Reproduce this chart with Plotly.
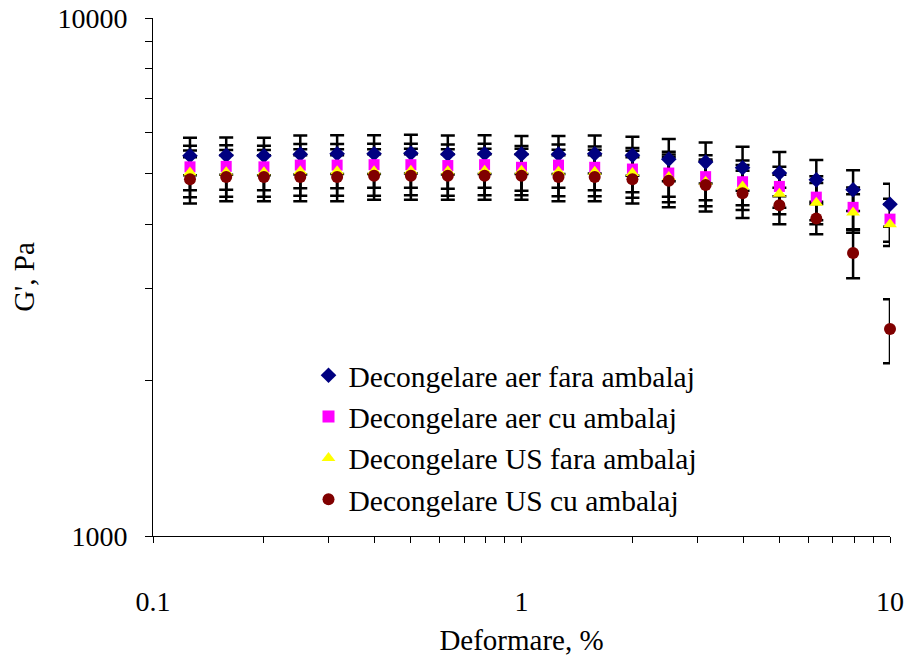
import plotly.graph_objects as go

# Strain sweep: deformation (%) on a log axis
deformare = [0.126, 0.158, 0.2, 0.251, 0.316, 0.398, 0.501, 0.631, 0.794, 1.0,
             1.26, 1.58, 2.0, 2.51, 3.16, 3.98, 5.01, 6.31, 7.94, 10.0]

# Storage modulus G' (Pa) for each thawing method
aer_fara = [5420, 5430, 5420, 5460, 5470, 5470, 5480, 5460, 5470, 5460,
            5460, 5470, 5430, 5340, 5270, 5140, 5020, 4870, 4660, 4370]
aer_cu = [5160, 5170, 5160, 5200, 5200, 5210, 5210, 5190, 5210, 5150,
          5200, 5150, 5110, 5020, 4940, 4830, 4730, 4510, 4310, 4090]
us_fara = [5030, 5040, 5040, 5060, 5060, 5060, 5070, 5060, 5070, 5070,
           5050, 5050, 5020, 4930, 4830, 4730, 4580, 4400, 4210, 4000]
us_cu = [4885, 4930, 4930, 4930, 4930, 4960, 4960, 4960, 4960, 4960,
         4930, 4930, 4885, 4850, 4760, 4590, 4350, 4100, 3520, 2510]

# Standard deviations (Pa)
err_aer_fara = [450, 450, 450, 470, 470, 470, 470, 470, 470, 460,
                460, 460, 470, 500, 480, 500, 490, 450, 420, 415]
err_aer_cu = [510, 510, 510, 510, 510, 510, 510, 510, 510, 510,
              500, 500, 500, 500, 490, 480, 430, 440, 400, 390]
err_us_fara = [520, 520, 520, 520, 520, 520, 520, 520, 520, 520,
               520, 520, 520, 520, 500, 470, 400, 400, 360, 370]
err_us_cu = [500, 500, 500, 500, 500, 500, 500, 500, 500, 500,
             500, 500, 500, 540, 530, 480, 350, 275, 375, 355]

serii = [
    ("Decongelare aer fara ambalaj", aer_fara, err_aer_fara, "diamond", "#000080", 12),
    ("Decongelare aer cu ambalaj", aer_cu, err_aer_cu, "square", "#FF00FF", 11),
    ("Decongelare US fara ambalaj", us_fara, err_us_fara, "triangle-up", "#FFFF00", 12),
    ("Decongelare US cu ambalaj", us_cu, err_us_cu, "circle", "#800000", 12),
]

FONT = "Liberation Serif, Times New Roman, serif"

fig = go.Figure()

# Error bars first so every marker sits above them
for nume, y, err, simbol, culoare, marime in serii:
    fig.add_trace(go.Scatter(
        x=deformare, y=y, mode="markers",
        marker=dict(size=marime, opacity=0),
        error_y=dict(type="data", array=err, visible=True,
                     color="black", thickness=2.5, width=7),
        showlegend=False, hoverinfo="skip", cliponaxis=False,
    ))

for nume, y, err, simbol, culoare, marime in serii:
    fig.add_trace(go.Scatter(
        x=deformare, y=y, mode="markers", name=nume,
        marker=dict(symbol=simbol, color=culoare, size=marime, line=dict(width=0)),
        cliponaxis=False,
    ))

fig.update_layout(
    width=909, height=659,
    margin=dict(l=153, r=19, t=18, b=123, autoexpand=False),
    paper_bgcolor="white", plot_bgcolor="white",
    font=dict(family=FONT, color="black", size=28),
    showlegend=True,
    legend=dict(
        x=0.211, y=0.36, xanchor="left", yanchor="top",
        bgcolor="rgba(0,0,0,0)", font=dict(family=FONT, size=29.5),
        tracegroupgap=0, itemsizing="constant",
    ),
)

fig.update_xaxes(
    type="log", range=[-1, 1],
    showline=True, linecolor="black", linewidth=1,
    showgrid=False, zeroline=False, automargin=False,
    ticks="outside", ticklen=6, tickcolor="black", tickwidth=1,
    tickvals=[0.1, 1, 10], ticktext=["0.1", "1", "10"],
    ticklabelstandoff=34,
    tickfont=dict(family=FONT, size=28),
    minor=dict(ticks="outside", ticklen=6, tickcolor="black", tickwidth=1,
               tickvals=[0.2, 0.3, 0.4, 0.5, 0.6, 0.7, 0.8, 0.9,
                         2, 3, 4, 5, 6, 7, 8, 9], showgrid=False),
    title=dict(text="Deformare, %", font=dict(family=FONT, size=29), standoff=14),
)

fig.update_yaxes(
    type="log", range=[3, 4],
    showline=True, linecolor="black", linewidth=1,
    showgrid=False, zeroline=False, automargin=False,
    ticks="outside", ticklen=7, tickcolor="black", tickwidth=1,
    tickvals=[1000, 10000], ticktext=["1000", "10000"],
    ticklabelstandoff=12,
    tickfont=dict(family=FONT, size=28),
    minor=dict(ticks="outside", ticklen=7, tickcolor="black", tickwidth=1,
               tickvals=[2000, 3000, 4000, 5000, 6000, 7000, 8000, 9000],
               showgrid=False),
    title=dict(text="G', Pa", font=dict(family=FONT, size=29), standoff=14),
)

fig.write_html("out.html")
